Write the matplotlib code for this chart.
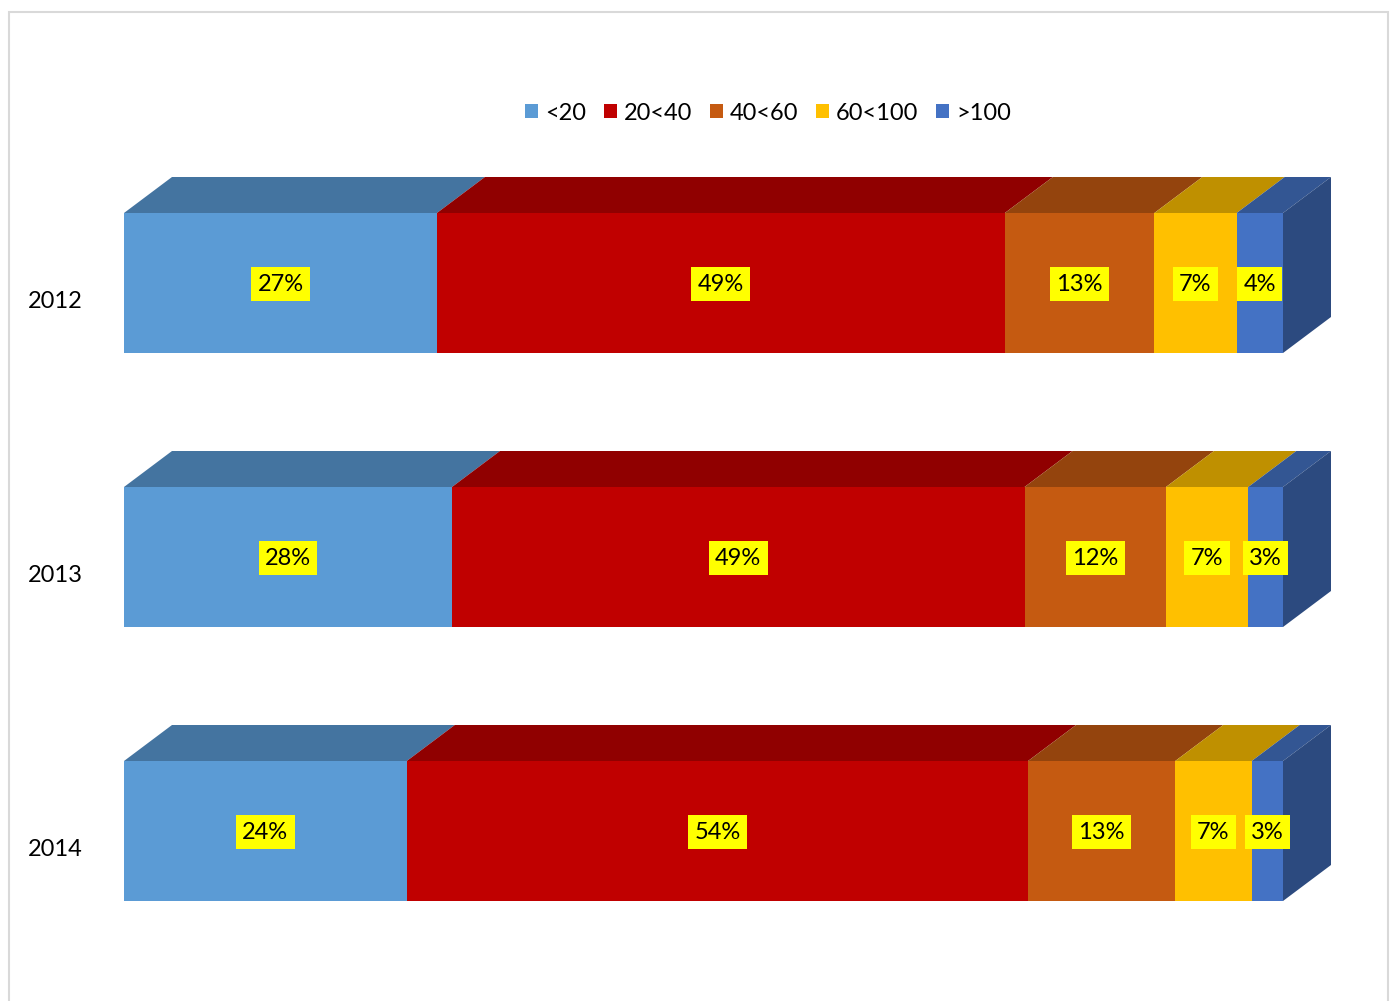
"""Stacked 3D-looking horizontal bars, share of size classes per year."""

import matplotlib
matplotlib.use("Agg")
import matplotlib.pyplot as plt
from matplotlib.patches import Polygon, Rectangle, Patch
from matplotlib.colors import to_rgb

plt.rcParams['font.family'] = ['Lato', 'DejaVu Sans']

years = ['2012', '2013', '2014']
categories = ['<20', '20<40', '40<60', '60<100', '>100']
shares_2012 = [27.0, 49.0, 12.9, 7.1, 4.0]
shares_2013 = [28.3, 49.4, 12.2, 7.1, 3.0]
shares_2014 = [24.4, 53.6, 12.7, 6.6, 2.7]
shares = [shares_2012, shares_2013, shares_2014]

colors = ['#5B9BD5', '#C00000', '#C55A11', '#FFC000', '#4472C4']


def shade(c, f):
    r, g, b = to_rgb(c)
    return (r * f, g * f, b * f)


W, H = 1393, 1001
fig = plt.figure(figsize=(W / 100, H / 100), dpi=100)

# light frame around the chart area
fig.patches.append(Rectangle((9 / W, -0.01), 1379 / W, 1 - 12 / H + 0.01,
                             transform=fig.transFigure, fill=False,
                             edgecolor='#D9D9D9', linewidth=1.5))

ax = fig.add_axes([124 / W, 1 - 968 / H, 1159 / W, 822 / H])
ax.set_xlim(0, 100)
ax.set_ylim(2.5, -0.5)
ax.axis('off')

bar_h = 140 / 274
dx = 48 / 1159 * 100
dy = 36 / 274

for i, (year, vals) in enumerate(zip(years, shares)):
    top = i - bar_h / 2
    bot = i + bar_h / 2
    left = 0
    for v, c in zip(vals, colors):
        ax.add_patch(Rectangle((left, top), v, bar_h, facecolor=c,
                               edgecolor='none', clip_on=False))
        ax.add_patch(Polygon([(left, top), (left + v, top),
                              (left + v + dx, top - dy), (left + dx, top - dy)],
                             closed=True, facecolor=shade(c, 0.75),
                             edgecolor='none', clip_on=False))
        ax.text(left + v / 2, i + 0.004, f'{round(v)}%', ha='center',
                va='center', fontsize=17, color='black',
                bbox=dict(boxstyle='square,pad=0.27', fc='#FFFF00', ec='none'))
        left += v
    # right side face of the last segment
    ax.add_patch(Polygon([(left, top), (left + dx, top - dy),
                          (left + dx, bot - dy), (left, bot)],
                         closed=True, facecolor=shade(colors[-1], 0.65),
                         edgecolor='none', clip_on=False))
    ax.text(-0.0595, i + 0.068, year, transform=ax.get_yaxis_transform(),
            ha='center', va='center', fontsize=17, color='black')

handles = [Patch(facecolor=c, edgecolor='none') for c in colors]
fig.legend(handles, categories, loc='center',
           bbox_to_anchor=(768 / W, 1 - 113 / H), ncol=5, frameon=False,
           fontsize=17, handlelength=0.55, handleheight=0.55,
           handletextpad=0.3, columnspacing=0.75)

fig.savefig('out.png', dpi=100)
